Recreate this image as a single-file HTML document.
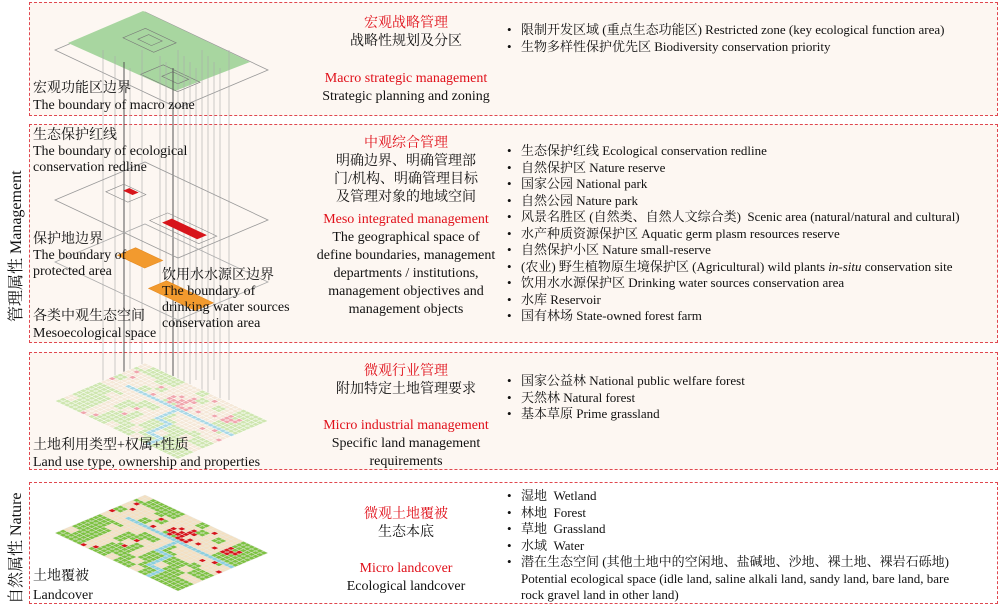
<!DOCTYPE html>
<html><head><meta charset="utf-8">
<style>
body{margin:0;width:1000px;height:606px;background:#fff;position:relative;overflow:hidden;font-family:"Liberation Serif","Noto Serif CJK SC","Noto Sans CJK SC",serif;color:#111}
.p{position:absolute;border:1.3px dashed #e0474f;box-sizing:border-box}
.t{position:absolute;font-size:13px;line-height:16px;white-space:nowrap}
.c{position:absolute;text-align:center;font-size:14px;line-height:18px;white-space:nowrap;transform:translateX(-50%)}
.r{color:#e0101a}
ul{position:absolute;margin:0;padding:0;list-style:none;font-size:13px;line-height:16.5px}
li{position:relative;padding-left:14px;white-space:nowrap}
li:before{content:"•";position:absolute;left:0}
.v{position:absolute;font-size:16px;white-space:nowrap;transform:rotate(-90deg);transform-origin:left top}
svg{position:absolute;left:0;top:0}
</style></head><body>
<div class="p" style="left:29px;top:2px;width:969px;height:114px;background:#fdf7f2"></div>
<div class="p" style="left:29px;top:124px;width:969px;height:219px;background:#fdf7f2"></div>
<div class="p" style="left:29px;top:352px;width:969px;height:118px;background:#fdf7f2"></div>
<div class="p" style="left:29px;top:482px;width:969px;height:122px;background:#fff"></div>
<svg width="1000" height="606" id="s"></svg>
<div class="v" style="left:3px;top:322px">管理属性 Management</div>
<div class="v" style="left:3px;top:604px">自然属性 Nature</div>

<div class="t" style="left:33px;top:80px;font-size:14px;line-height:17px">宏观功能区边界<br>The boundary of macro zone</div>
<div class="t" style="left:33px;top:128px;font-size:14px;line-height:16px">生态保护红线<br>The boundary of ecological<br>conservation redline</div>
<div class="t" style="left:33px;top:232px;font-size:14px;line-height:16px">保护地边界<br>The boundary of<br>protected area</div>
<div class="t" style="left:162px;top:268px;font-size:14px;line-height:16px">饮用水水源区边界<br>The boundary of<br>drinking water sources<br>conservation area</div>
<div class="t" style="left:33px;top:308px;font-size:14px;line-height:17px">各类中观生态空间<br>Mesoecological space</div>
<div class="t" style="left:33px;top:437px;font-size:14px;line-height:17px">土地利用类型+权属+性质<br>Land use type, ownership and properties</div>
<div class="t" style="left:33px;top:567px;font-size:14px;line-height:19px">土地覆被<br>Landcover</div>

<div class="c" style="left:406px;top:15px"><span class="r">宏观战略管理</span><br>战略性规划及分区</div>
<div class="c" style="left:406px;top:70px"><span class="r">Macro strategic management</span><br>Strategic planning and zoning</div>
<div class="c" style="left:406px;top:135px"><span class="r">中观综合管理</span><br>明确边界、明确管理部<br>门/机构、明确管理目标<br>及管理对象的地域空间</div>
<div class="c" style="left:406px;top:211px"><span class="r">Meso integrated management</span><br>The geographical space of<br>define boundaries, management<br>departments / institutions,<br>management objectives and<br>management objects</div>
<div class="c" style="left:406px;top:363px"><span class="r">微观行业管理</span><br>附加特定土地管理要求</div>
<div class="c" style="left:406px;top:417px"><span class="r">Micro industrial management</span><br>Specific land management<br>requirements</div>
<div class="c" style="left:406px;top:506px"><span class="r">微观土地覆被</span><br>生态本底</div>
<div class="c" style="left:406px;top:560px"><span class="r">Micro landcover</span><br>Ecological landcover</div>

<ul style="left:507px;top:22px"><li>限制开发区域 (重点生态功能区) Restricted zone (key ecological function area)</li><li>生物多样性保护优先区 Biodiversity conservation priority</li></ul>
<ul style="left:507px;top:143px"><li>生态保护红线 Ecological conservation redline</li><li>自然保护区 Nature reserve</li><li>国家公园 National park</li><li>自然公园 Nature park</li><li>风景名胜区 (自然类、自然人文综合类)&nbsp; Scenic area (natural/natural and cultural)</li><li>水产种质资源保护区 Aquatic germ plasm resources reserve</li><li>自然保护小区 Nature small-reserve</li><li>(农业) 野生植物原生境保护区 (Agricultural) wild plants <i>in-situ</i> conservation site</li><li>饮用水水源保护区 Drinking water sources conservation area</li><li>水库 Reservoir</li><li>国有林场 State-owned forest farm</li></ul>
<ul style="left:507px;top:373px"><li>国家公益林 National public welfare forest</li><li>天然林 Natural forest</li><li>基本草原 Prime grassland</li></ul>
<ul style="left:507px;top:488px"><li>湿地&nbsp; Wetland</li><li>林地&nbsp; Forest</li><li>草地&nbsp; Grassland</li><li>水域&nbsp; Water</li><li>潜在生态空间 (其他土地中的空闲地、盐碱地、沙地、裸土地、裸岩石砾地)<br>Potential ecological space (idle land, saline alkali land, sandy land, bare land, bare<br>rock gravel land in other land)</li></ul>

<script>
var s=document.getElementById('s'),h='';
var U=[90,-38],V=[123,58];
function P(o,a,b){return [o[0]+U[0]*a+V[0]*b,o[1]+U[1]*a+V[1]*b];}
function poly(o,a0,b0,a1,b1,f,st,sw){var p=[P(o,a0,b0),P(o,a1,b0),P(o,a1,b1),P(o,a0,b1)];h+='<polygon points="'+p.map(function(q){return q[0].toFixed(1)+','+q[1].toFixed(1)}).join(' ')+'" fill="'+f+'" stroke="'+st+'" stroke-width="'+(sw||0.6)+'"/>';}
function hash(x,y){var n=Math.sin(x*12.9898+y*78.233)*43758.5453;return n-Math.floor(n);}
function grid(o,cols){var N=22,M=30;
 for(var i=0;i<N;i++)for(var j=0;j<M;j++){
  var a=(i+0.5)/N,b=(j+0.5)/M,k=1;
  var rb=hash(Math.floor(i/2),Math.floor(j/2)),r=hash(i,j);
  var green=(a<0.5&&b<0.2)||(a<0.4&&b>0.55)||(a>0.6&&b>0.82)||(a>0.85&&b<0.35)||(a<0.25&&b>0.3);
  if(green)k=rb<0.85?0:1;else k=rb<0.25?0:1;
  var rv=(i==13&&j>=4)||(j==16&&i<=13&&i>=8)||(i==8&&j>=16&&j<=19)||(j==19&&i<=8&&i>=3)||(i==3&&j>=19&&j<=22)||(j==22&&i<=3);
  if(rv)k=2;
  else{
   if(r>0.94&&!green)k=3;
   if(i>=14&&i<=17&&j>=12&&j<=16&&r>0.25)k=3;
   if(i>=16&&i<=18&&j>=24&&j<=26&&r>0.5)k=3;
  }
  poly(o,i/N,j/M,(i+1)/N,(j+1)/M,cols[k],cols[4],0.4);
 }}
// macro plane
var m=[55,50];
poly(m,0,0,1,1,'none','#999',0.8);
h+='<polygon points="68,43 143,11 250,62 175,91" fill="#a8d6a0"/>';
poly(m,0.55,0.15,0.8,0.4,'none','#777');poly(m,0.62,0.22,0.74,0.33,'none','#777');
poly(m,0.2,0.55,0.45,0.85,'none','#777');poly(m,0.3,0.65,0.42,0.78,'none','#777');
// vertical lines
var xs=[103,115,124,130,142,160,166,173,178,184,190,196,202,208,214,220,229];
xs.forEach(function(x,i){h+='<line x1="'+x+'" y1="'+(50+i%4*6)+'" x2="'+x+'" y2="'+(420-i%3*20)+'" stroke="'+(x==124||x==173?'#555':'#aaa')+'" stroke-width="'+(x==124||x==173?1:0.6)+'"/>';});
// redline plane
var r=[55,200];
poly(r,0,0,1,1,'none','#999',0.8);
poly(r,0.4,0.12,0.6,0.3,'none','#888');poly(r,0.52,0.18,0.58,0.25,'#d7141a','#d7141a');
poly(r,0.3,0.55,0.5,0.95,'none','#888');poly(r,0.35,0.62,0.45,0.9,'#d7141a','#d7141a');
// protected plane
var q=[55,262];
poly(q,0,0,1,1,'none','#aaa',0.8);
poly(q,0.45,0.18,0.65,0.4,'#f29a2e','#e58a20');
poly(q,0.22,0.6,0.42,0.98,'#f29a2e','#e58a20');
grid([55,401],['#cfe6b0','#f5e8d8','#a9d8e6','#f0a6ad','#ffffff']);
grid([55,533],['#7dc242','#f4e0c2','#8ccfe0','#d7141a','#e8e8e0']);
s.innerHTML=h;
</script>
</body></html>
